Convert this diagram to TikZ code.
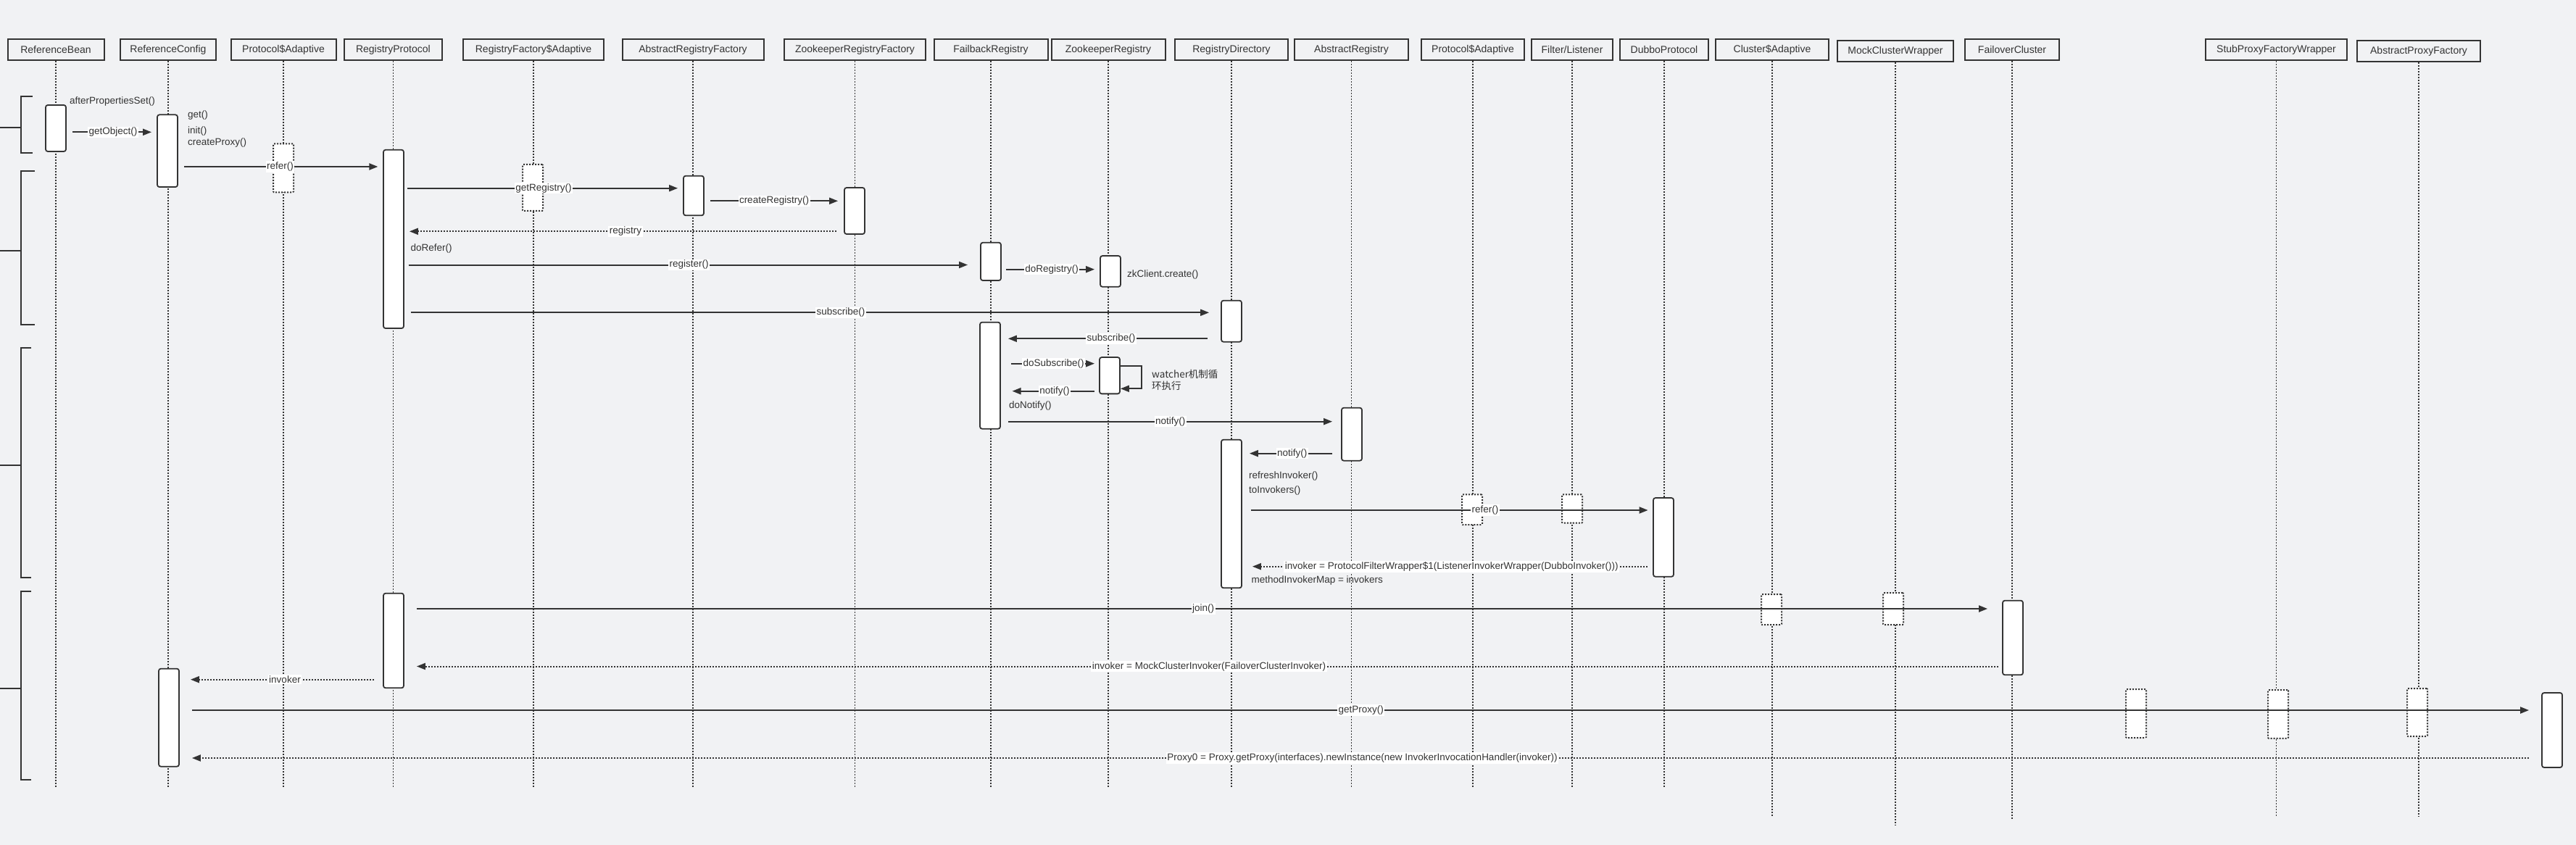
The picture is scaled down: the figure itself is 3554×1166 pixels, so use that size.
\documentclass[tikz,border=0pt]{standalone}
\usepackage{fontspec}
\setmainfont{Liberation Sans}
\newfontfamily\cjk{Noto Sans CJK SC}
\usetikzlibrary{arrows.meta}
\definecolor{bgc}{HTML}{F1F2F4}
\definecolor{ink}{HTML}{333333}
\tikzset{
  hdr/.style={draw=ink, line width=2pt, minimum height=29pt, inner sep=0pt, text=ink, font=\fontsize{14}{16}\selectfont},
  act/.style={draw=ink, fill=white, line width=1.8pt, rounded corners=3pt, minimum width=28pt, inner sep=0pt},
  dact/.style={draw=ink, fill=white, line width=2pt, rounded corners=1pt, minimum width=28pt, inner sep=0pt, dash pattern=on 2pt off 2pt},
  life/.style={draw=ink, line width=1.6pt, dash pattern=on 2pt off 2pt},
  msg/.style={draw=ink, line width=2pt, -{Triangle[length=12pt,width=9pt]}},
  ret/.style={msg, dash pattern=on 2pt off 2pt},
  lbl/.style={fill=white, inner sep=1.5pt, text=ink, font=\fontsize{13.5}{15}\selectfont},
  txt/.style={anchor=west, inner sep=0pt, text=ink, font=\fontsize{13.5}{15}\selectfont},
  brk/.style={draw=ink, line width=2pt}
}
\begin{document}
\begin{tikzpicture}[x=1pt,y=-1pt]
\fill[bgc] (0,0) rectangle (3554,1166);
\useasboundingbox (0,0) rectangle (3554,1166);

% headers
\node[hdr, minimum width=133pt] (h1) at (77,68.7) {ReferenceBean};
\node[hdr, minimum width=131.5pt] (h2) at (232,68.7) {ReferenceConfig};
\node[hdr, minimum width=145pt] (h3) at (391,68.7) {Protocol\$Adaptive};
\node[hdr, minimum width=135pt] (h4) at (542.4,68.7) {RegistryProtocol};
\node[hdr, minimum width=194pt] (h5) at (736,68.7) {RegistryFactory\$Adaptive};
\node[hdr, minimum width=195pt] (h6) at (956,68.7) {AbstractRegistryFactory};
\node[hdr, minimum width=195pt] (h7) at (1179.5,68.7) {ZookeeperRegistryFactory};
\node[hdr, minimum width=157pt] (h8) at (1367,68.7) {FailbackRegistry};
\node[hdr, minimum width=157pt] (h9) at (1529,68.7) {ZookeeperRegistry};
\node[hdr, minimum width=156pt] (h10) at (1699,68.7) {RegistryDirectory};
\node[hdr, minimum width=157pt] (h11) at (1864.5,68.7) {AbstractRegistry};
\node[hdr, minimum width=142pt] (h12) at (2032,68.7) {Protocol\$Adaptive};
\node[hdr, minimum width=112pt] (h13) at (2169,68.7) {Filter/Listener};
\node[hdr, minimum width=122pt] (h14) at (2296,68.7) {DubboProtocol};
\node[hdr, minimum width=156pt] (h15) at (2445,68.7) {Cluster\$Adaptive};
\node[hdr, minimum width=160pt] (h16) at (2615,70.9) {MockClusterWrapper};
\node[hdr, minimum width=130pt] (h17) at (2776,68.7) {FailoverCluster};
\node[hdr, minimum width=195pt] (h18) at (3140.5,68.7) {StubProxyFactoryWrapper};
\node[hdr, minimum width=169.5pt] (h19) at (3337,70.9) {AbstractProxyFactory};

% lifelines
\foreach \h in {h1,h2,h3,h4,h5,h6,h7,h8,h9,h10,h11,h12,h13,h14}
  \draw[life] (\h.south) -- (\h.south |- 0,1086);
\draw[life] (h15.south) -- (h15.south |- 0,1126);
\draw[life] (h16.south) -- (h16.south |- 0,1139);
\draw[life] (h17.south) -- (h17.south |- 0,1131);
\draw[life] (h18.south) -- (h18.south |- 0,1126);
\draw[life] (h19.south) -- (h19.south |- 0,1127);

% brackets
\draw[brk] (45,133.5) -- (29,133.5) -- (29,210.6) -- (45,210.6);
\draw[brk] (0,175.8) -- (29,175.8);
\draw[brk] (48,236) -- (29,236) -- (29,447.6) -- (48,447.6);
\draw[brk] (0,346) -- (29,346);
\draw[brk] (43,480) -- (29,480) -- (29,796.5) -- (43,796.5);
\draw[brk] (0,641.8) -- (29,641.8);
\draw[brk] (43,815.7) -- (29,815.7) -- (29,1076) -- (43,1076);
\draw[brk] (0,950) -- (29,950);

% activations
\node[act, minimum height=64pt] (a1) at (77,177) {};
\node[act, minimum height=99.7pt] (a2) at (231,208.2) {};
\node[dact, minimum height=67pt] (d1) at (391,231.8) {};
\node[act, minimum height=246.3pt] (a3) at (543,329.9) {};
\node[dact, minimum height=64pt] (d2) at (735,259) {};
\node[act, minimum height=54.6pt] (a4) at (957,270) {};
\node[act, minimum height=64pt] (a5) at (1179,291) {};
\node[act, minimum height=52.3pt] (a6) at (1367,360.9) {};
\node[act, minimum height=42.7pt] (a7) at (1532,374.4) {};
\node[act, minimum height=57pt] (a8) at (1699,443.2) {};
\node[act, minimum height=147pt] (a9) at (1366,518.2) {};
\node[act, minimum height=50.3pt] (a10) at (1531,518.2) {};
\node[act, minimum height=73pt] (a11) at (1865,599.2) {};
\node[act, minimum height=204.6pt] (a12) at (1699,709) {};
\node[dact, minimum height=41.7pt] (d3) at (2031,703.2) {};
\node[dact, minimum height=39.4pt] (d4) at (2169,702) {};
\node[act, minimum height=108.7pt] (a13) at (2295,741.4) {};
\node[act, minimum height=130.6pt] (a14) at (543,884) {};
\node[dact, minimum height=42pt] (d5) at (2444,841) {};
\node[dact, minimum height=44pt] (d6) at (2612,840) {};
\node[act, minimum height=102.6pt] (a15) at (2777,880) {};
\node[act, minimum height=135pt] (a16) at (233,990.2) {};
\node[dact, minimum height=67pt] (d7) at (2947,984.5) {};
\node[dact, minimum height=66.7pt] (d8) at (3143,985.4) {};
\node[dact, minimum height=66pt] (d9) at (3335,983) {};
\node[act, minimum height=103pt] (a17) at (3521,1007.5) {};

% free texts
\node[txt] (t1) at (96,140.3) {afterPropertiesSet()};
\node[txt] (t2) at (259,158.7) {get()};
\node[txt] (t3) at (259,180.7) {init()};
\node[txt] (t4) at (259,196.7) {createProxy()};
\node[txt] (t5) at (566.5,342.7) {doRefer()};
\node[txt] (t6) at (1555,378.7) {zkClient.create()};
\node[txt, align=left, font=\cjk\fontsize{13.5}{15.5}\selectfont] (t7) at (1589,524.5) {watcher机制循\\环执行};
\node[txt] (t8) at (1392,560) {doNotify()};
\node[txt] (t9) at (1723,657.3) {refreshInvoker()};
\node[txt] (t10) at (1723,677.3) {toInvokers()};
\node[txt] (t11) at (1726.5,801) {methodInvokerMap = invokers};

% messages
\draw[msg, shorten <=8pt, shorten >=7pt] (a1.east |- 0,182.3) -- (a2.west |- 0,182.3);
\node[lbl] (l1) at (156,182.3) {getObject()};
\draw[msg, shorten <=8pt, shorten >=6.7pt] (a2.east |- 0,230) -- (a3.west |- 0,230);
\node[lbl] (l2) at (386.5,230) {refer()};
\draw[msg, shorten <=4pt, shorten >=7pt] (a3.east |- 0,259.7) -- (a4.west |- 0,259.7);
\node[lbl] (l3) at (750,259.7) {getRegistry()};
\draw[msg, shorten <=8pt, shorten >=8pt] (a4.east |- 0,277.3) -- (a5.west |- 0,277.3);
\node[lbl] (l4) at (1068,277.3) {createRegistry()};
\draw[ret, shorten <=10pt, shorten >=7pt] (a5.west |- 0,319.3) -- (a3.east |- 0,319.3);
\node[lbl] (l5) at (863,319.3) {registry};
\draw[msg, shorten <=5.6pt, shorten >=17pt] (a3.east |- 0,365.5) -- (a6.west |- 0,365.5);
\node[lbl] (l6) at (950.5,365.5) {register()};
\draw[msg, shorten <=6pt, shorten >=7pt] (a6.east |- 0,371.7) -- (a7.west |- 0,371.7);
\node[lbl] (l7) at (1451,371.7) {doRegistry()};
\draw[msg, shorten <=8.6pt, shorten >=16pt] (a3.east |- 0,431.3) -- (a8.west |- 0,431.3);
\node[lbl] (l8) at (1160,431.3) {subscribe()};
\draw[msg, shorten <=18pt, shorten >=10pt] (a8.west |- 0,467.3) -- (a9.east |- 0,467.3);
\node[lbl] (l9) at (1533,467.3) {subscribe()};
\draw[msg, shorten <=14pt, shorten >=6pt] (a9.east |- 0,501.7) -- (a10.west |- 0,501.7);
\node[lbl] (l10) at (1453.6,501.7) {doSubscribe()};
\draw[msg] (a10.east |- 0,505.3) -- ++(29.4,0) |- (a10.east |- 0,536.3);
\draw[msg, shorten <=6pt, shorten >=15.6pt] (a10.west |- 0,539.7) -- (a9.east |- 0,539.7);
\node[lbl] (l12) at (1455,539.7) {notify()};
\draw[msg, shorten <=10pt, shorten >=12pt] (a9.east |- 0,581.7) -- (a11.west |- 0,581.7);
\node[lbl] (l13) at (1614.7,581.7) {notify()};
\draw[msg, shorten <=12pt, shorten >=10pt] (a11.west |- 0,625.7) -- (a12.east |- 0,625.7);
\node[lbl] (l14) at (1782.7,625.7) {notify()};
\draw[msg, shorten <=12pt, shorten >=6.5pt] (a12.east |- 0,704) -- (a13.west |- 0,704);
\node[lbl] (l15) at (2049,704) {refer()};
\draw[ret, shorten <=7.6pt, shorten >=14pt] (a13.west |- 0,781.7) -- (a12.east |- 0,781.7);
\node[lbl] (l16) at (2002.8,781.7) {invoker = ProtocolFilterWrapper\$1(ListenerInvokerWrapper(DubboInvoker()))};
\draw[msg, shorten <=17pt, shorten >=20pt] (a14.east |- 0,840) -- (a15.west |- 0,840);
\node[lbl] (l17) at (1660,840) {join()};
\draw[ret, shorten <=5pt, shorten >=17pt] (a15.west |- 0,919.5) -- (a14.east |- 0,919.5);
\node[lbl] (l18) at (1668,919.5) {invoker = MockClusterInvoker(FailoverClusterInvoker)};
\draw[ret, shorten <=12pt, shorten >=15pt] (a14.west |- 0,937.7) -- (a16.east |- 0,937.7);
\node[lbl] (l19) at (393,937.7) {invoker};
\draw[msg, shorten <=17pt, shorten >=17pt] (a16.east |- 0,980) -- (a17.west |- 0,980);
\node[lbl] (l20) at (1877.7,980) {getProxy()};
\draw[ret, shorten <=17pt, shorten >=17pt] (a17.west |- 0,1046) -- (a16.east |- 0,1046);
\node[lbl] (l21) at (1879.5,1046) {Proxy0 = Proxy.getProxy(interfaces).newInstance(new InvokerInvocationHandler(invoker))};
\end{tikzpicture}
\end{document}
